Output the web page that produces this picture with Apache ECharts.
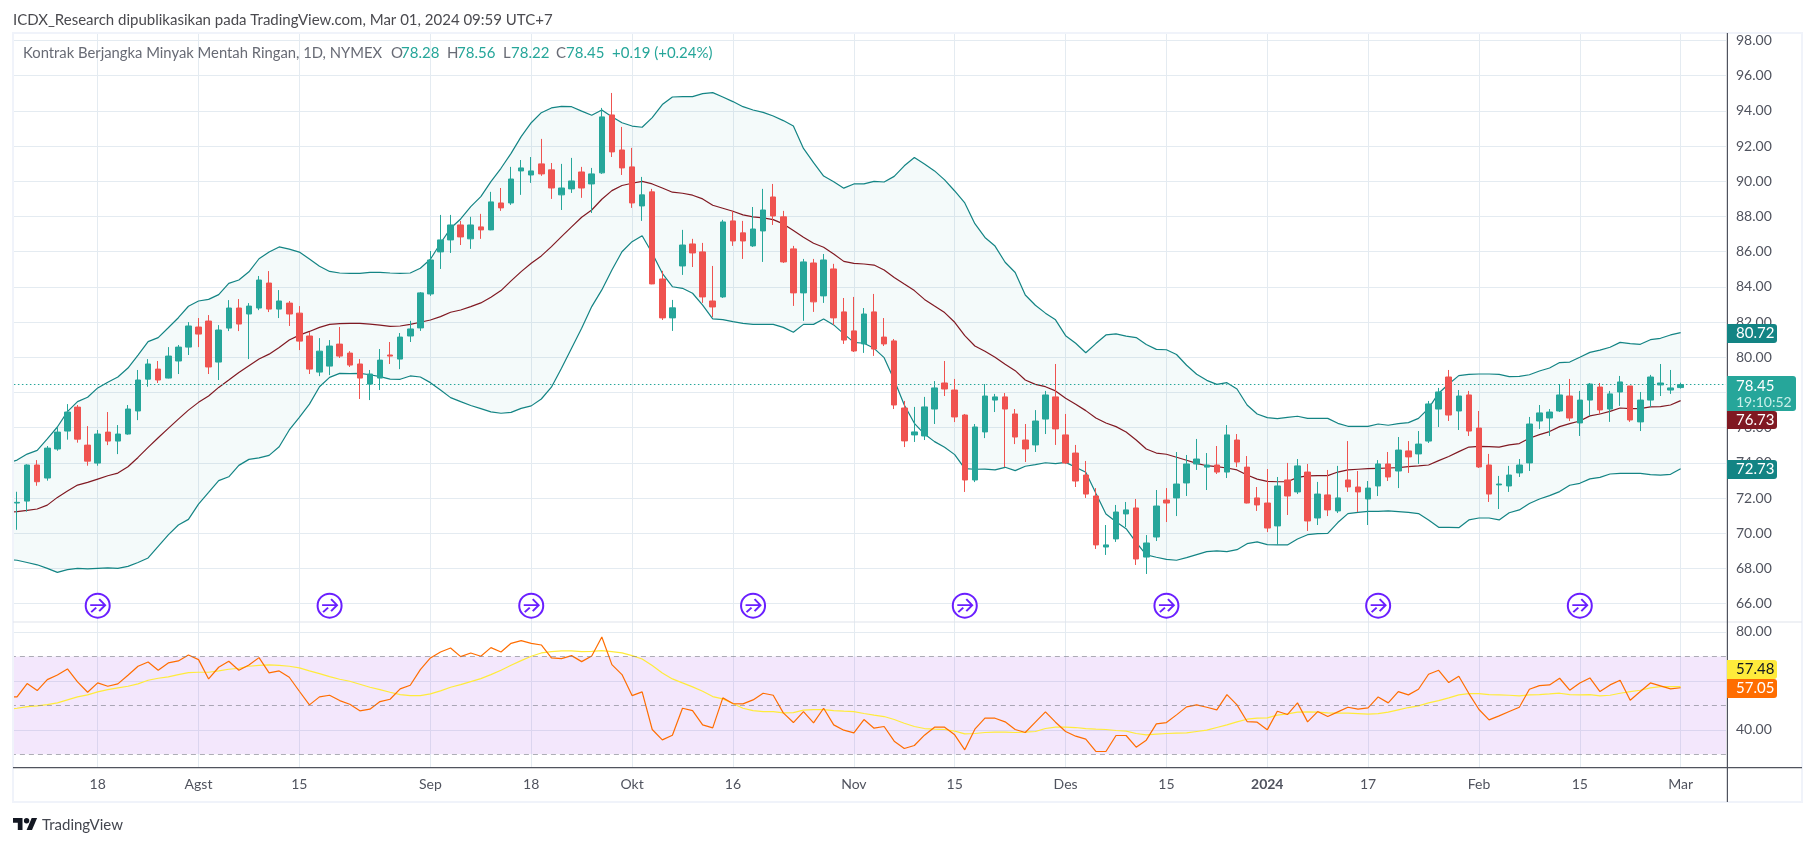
<!DOCTYPE html>
<html><head><meta charset="utf-8">
<script src="https://cdn.jsdelivr.net/npm/echarts@6/dist/echarts.min.js"></script>
<style>html,body{margin:0;padding:0;background:#fff}#c{width:1815px;height:846px}</style></head>
<body><div id="c"></div>
<script>
const dates=["2023-07-05",
"2023-07-06","2023-07-07","2023-07-10","2023-07-11","2023-07-12","2023-07-13","2023-07-14","2023-07-17","2023-07-18","2023-07-19","2023-07-20","2023-07-21","2023-07-24","2023-07-25","2023-07-26","2023-07-27","2023-07-28","2023-07-31",
"2023-08-01","2023-08-02","2023-08-03","2023-08-04","2023-08-07","2023-08-08","2023-08-09","2023-08-10","2023-08-11","2023-08-14","2023-08-15","2023-08-16","2023-08-17","2023-08-18","2023-08-21","2023-08-22","2023-08-23","2023-08-24","2023-08-25","2023-08-28","2023-08-29","2023-08-30","2023-08-31",
"2023-09-01","2023-09-05","2023-09-06","2023-09-07","2023-09-08","2023-09-11","2023-09-12","2023-09-13","2023-09-14","2023-09-15","2023-09-18","2023-09-19","2023-09-20","2023-09-21","2023-09-22","2023-09-25","2023-09-26","2023-09-27","2023-09-28","2023-09-29",
"2023-10-02","2023-10-03","2023-10-04","2023-10-05","2023-10-06","2023-10-09","2023-10-10","2023-10-11","2023-10-12","2023-10-13","2023-10-16","2023-10-17","2023-10-18","2023-10-19","2023-10-20","2023-10-23","2023-10-24","2023-10-25","2023-10-26","2023-10-27","2023-10-30","2023-10-31",
"2023-11-01","2023-11-02","2023-11-03","2023-11-06","2023-11-07","2023-11-08","2023-11-09","2023-11-10","2023-11-13","2023-11-14","2023-11-15","2023-11-16","2023-11-17","2023-11-20","2023-11-21","2023-11-22","2023-11-24","2023-11-27","2023-11-28","2023-11-29","2023-11-30",
"2023-12-01","2023-12-04","2023-12-05","2023-12-06","2023-12-07","2023-12-08","2023-12-11","2023-12-12","2023-12-13","2023-12-14","2023-12-15","2023-12-18","2023-12-19","2023-12-20","2023-12-21","2023-12-22","2023-12-26","2023-12-27","2023-12-28","2023-12-29",
"2024-01-02","2024-01-03","2024-01-04","2024-01-05","2024-01-08","2024-01-09","2024-01-10","2024-01-11","2024-01-12","2024-01-16","2024-01-17","2024-01-18","2024-01-19","2024-01-22","2024-01-23","2024-01-24","2024-01-25","2024-01-26","2024-01-29","2024-01-30","2024-01-31",
"2024-02-01","2024-02-02","2024-02-05","2024-02-06","2024-02-07","2024-02-08","2024-02-09","2024-02-12","2024-02-13","2024-02-14","2024-02-15","2024-02-16","2024-02-20","2024-02-21","2024-02-22","2024-02-23","2024-02-26","2024-02-27","2024-02-28","2024-02-29","2024-03-01"];
const opens=[null,71.72,71.83,73.88,73.14,74.79,75.81,77.17,75.01,73.99,75.75,75.24,75.64,76.95,78.76,79.33,78.82,79.79,80.58,81.72,82.06,79.73,81.66,82.80,82.46,82.80,84.22,82.74,83.08,82.51,81.21,79.16,79.50,80.75,80.24,79.62,78.48,78.82,80.13,79.90,
81.21,81.67,83.60,85.99,86.67,87.52,86.73,87.41,87.24,88.77,88.77,90.59,90.36,90.99,90.65,89.23,89.57,90.53,89.85,90.48,93.77,91.78,90.82,88.60,89.40,84.45,82.24,85.19,86.44,85.99,83.20,83.43,87.75,87.07,86.33,87.18,89.11,87.98,86.16,83.66,85.36,83.49,85.02,
82.58,81.50,80.76,82.58,81.15,80.93,77.12,75.59,75.53,77.06,78.54,78.14,76.72,73.03,75.76,77.57,77.75,76.78,75.30,75.02,76.49,77.75,75.59,74.56,73.31,72.12,69.22,69.68,71.10,71.44,68.65,69.79,71.89,72.01,72.86,73.94,73.76,73.88,73.48,75.30,73.76,72.01,71.72,
70.42,73.03,72.35,73.48,70.87,72.18,71.27,73.03,72.63,71.95,72.69,73.94,73.54,74.68,74.51,75.24,77.06,78.88,76.95,77.86,75.98,73.88,72.75,72.69,73.43,74.00,76.38,76.55,76.95,77.80,76.27,77.57,78.31,77.06,78.03,78.37,76.33,77.57,78.43,78.14,78.28];
const highs=[null,72.36,73.92,74.16,74.96,76.06,77.34,77.29,76.09,75.87,76.89,76.15,77.29,79.28,79.90,79.79,80.58,80.70,82.00,82.23,82.40,81.83,83.25,83.31,83.08,84.62,84.90,83.82,83.20,82.91,81.43,81.09,80.98,81.72,80.35,79.90,79.28,80.47,80.87,81.38,
82.07,83.71,86.04,88.09,88.09,87.75,87.98,88.15,89.40,89.62,90.82,91.21,91.38,92.41,91.04,90.99,91.33,90.82,90.76,94.17,95.02,93.09,91.90,90.25,89.57,84.91,83.26,87.24,86.73,86.50,85.19,87.81,88.32,87.75,88.54,89.57,89.85,88.32,86.33,85.59,85.59,85.87,85.31,
83.37,83.43,82.80,83.60,82.23,81.04,77.52,77.18,77.75,78.65,79.79,78.77,76.78,76.21,78.48,77.92,77.97,77.06,76.21,77.00,78.09,79.62,76.78,75.02,74.11,72.57,70.47,71.61,71.78,71.95,69.90,72.46,72.57,74.62,74.45,75.36,74.56,74.96,76.15,75.64,74.39,72.63,73.65,
73.20,74.00,74.22,73.94,72.92,73.60,73.83,75.24,73.54,72.97,74.16,74.62,75.47,75.24,75.81,77.52,78.26,79.28,78.14,78.09,76.95,74.51,73.26,73.83,74.22,76.61,77.29,77.06,78.48,78.77,78.09,78.54,78.54,78.09,78.94,78.37,78.03,79.00,79.62,79.28,78.56];
const lows=[null,70.20,71.23,72.70,72.99,74.69,75.32,75.15,73.84,73.84,75.01,74.50,75.60,76.43,78.33,78.54,78.80,79.05,80.13,80.58,79.05,78.71,81.49,81.49,79.90,82.68,82.57,82.23,81.78,80.41,79.05,78.93,78.99,79.96,79.45,77.63,77.57,78.14,79.62,79.33,
80.87,81.50,83.49,85.02,85.93,86.38,86.16,86.73,87.22,88.32,88.66,89.23,89.91,90.31,89.00,88.37,89.34,89.06,88.20,90.42,91.38,90.36,88.49,87.75,84.15,82.12,81.50,84.68,85.13,83.09,82.29,83.37,86.33,85.59,86.27,85.42,87.52,85.36,82.92,82.07,82.58,83.09,81.84,
80.76,80.30,80.25,80.08,80.64,77.06,74.90,75.19,75.30,76.21,77.80,76.32,72.35,72.91,75.41,76.89,73.76,75.07,74.05,74.62,75.64,75.02,73.94,72.63,72.01,69.11,68.77,69.51,70.36,68.20,67.69,69.56,70.64,70.98,72.12,73.60,72.46,73.37,73.14,73.76,71.70,71.27,70.07,
69.34,71.04,72.23,70.13,70.47,70.98,71.15,72.35,71.21,70.47,72.12,72.97,72.57,73.43,73.94,75.13,76.04,76.38,75.87,75.53,73.71,71.78,71.38,72.35,73.20,73.54,75.93,75.53,76.89,76.38,75.53,76.67,76.78,76.33,77.24,76.33,75.81,77.18,77.80,77.92,78.22];
const closes=[null,71.76,73.88,72.93,74.84,75.75,76.89,75.35,74.10,75.64,75.24,75.64,77.06,78.71,79.62,78.71,80.07,80.58,81.78,81.32,79.45,81.55,82.80,81.89,82.91,84.39,82.74,83.20,82.46,80.92,79.33,80.35,80.64,80.07,79.56,78.82,79.05,79.84,80.07,81.15,
81.61,83.66,85.53,86.67,87.52,86.84,87.52,87.24,88.83,88.49,90.13,90.76,90.59,90.42,89.62,89.62,90.02,89.62,90.42,93.66,91.67,90.76,88.77,89.23,84.17,82.24,82.81,86.38,85.93,83.43,82.86,87.69,86.61,86.61,87.29,88.37,88.03,85.42,83.66,85.42,83.15,85.53,82.24,
80.98,80.36,82.46,80.47,80.76,77.29,75.25,75.76,77.18,78.26,78.20,76.61,73.03,76.04,77.80,77.75,77.06,75.47,74.79,76.38,77.86,75.93,74.00,72.97,72.23,69.34,69.34,71.21,71.33,68.54,69.45,71.55,71.72,72.80,73.94,74.22,73.88,73.48,75.59,74.05,71.72,71.61,70.30,
72.69,72.12,73.83,70.70,72.23,71.33,72.01,72.63,72.35,72.57,73.94,73.20,74.73,74.34,75.07,77.35,78.03,76.72,77.80,75.81,73.77,72.23,72.80,73.31,73.88,76.21,76.84,76.89,77.86,76.55,77.57,78.48,77.01,77.92,78.60,76.44,77.57,78.88,78.54,78.26,78.45];
const bbUpper=[73.98,74.16,74.50,74.71,75.36,76.04,76.91,77.48,77.73,78.26,78.58,78.88,79.39,80.13,80.89,81.12,81.68,82.25,82.90,83.20,83.29,83.56,84.20,84.39,84.86,85.60,85.98,86.27,86.15,85.98,85.58,85.17,84.88,84.79,84.77,84.77,84.83,84.83,84.79,84.77,
84.79,85.06,85.57,86.48,87.33,87.86,88.56,89.13,89.98,90.74,91.59,92.54,93.33,93.90,94.17,94.26,94.24,93.99,93.75,94.05,93.67,93.33,93.14,93.07,93.62,94.36,94.79,94.81,94.81,94.98,95.04,94.79,94.53,94.24,94.05,93.92,93.71,93.45,93.14,91.87,91.06,90.30,89.98,
89.61,89.85,89.85,90.00,89.96,90.28,90.88,91.35,90.98,90.59,90.08,89.45,88.77,87.59,86.81,86.32,85.40,84.82,83.54,82.96,82.51,82.13,81.23,80.80,80.26,80.78,81.27,81.33,81.20,81.12,80.73,80.45,80.43,80.16,79.55,79.04,78.69,78.46,78.56,78.20,77.29,76.78,76.57,
76.52,76.59,76.65,76.53,76.53,76.53,76.25,76.08,76.08,76.08,76.21,76.14,76.23,76.29,76.53,77.10,77.96,78.48,78.96,79.03,79.05,79.05,79.03,78.90,78.92,79.01,79.22,79.39,79.70,79.73,80.00,80.28,80.41,80.57,80.85,80.78,80.74,81.00,81.08,81.27,81.40];
const bbBasis=[71.20,71.23,71.30,71.38,71.60,72.04,72.40,72.74,72.89,73.08,73.27,73.42,73.78,74.31,74.88,75.43,75.96,76.49,77.00,77.44,77.80,78.29,78.71,79.14,79.52,79.90,80.18,80.56,80.98,81.26,81.47,81.70,81.87,81.91,81.93,81.93,81.89,81.83,81.76,81.78,
81.87,81.99,82.12,82.31,82.56,82.69,82.88,83.09,83.41,83.79,84.34,84.87,85.34,85.76,86.29,86.86,87.41,87.96,88.37,88.98,89.47,89.76,89.89,90.00,89.85,89.62,89.38,89.32,89.21,89.00,88.64,88.47,88.30,88.09,87.98,87.92,87.82,87.58,87.20,86.82,86.48,86.25,85.87,
85.45,85.34,85.30,85.24,84.96,84.54,84.16,83.79,83.29,82.91,82.54,81.99,81.23,80.64,80.34,80.00,79.60,79.24,78.71,78.46,78.33,78.09,77.67,77.33,76.97,76.55,76.27,76.06,75.76,75.30,74.79,74.56,74.49,74.32,74.15,73.97,73.84,73.79,73.71,73.60,73.31,73.08,72.95,
72.93,72.93,73.18,73.26,73.28,73.28,73.48,73.60,73.64,73.67,73.69,73.71,73.73,73.79,73.83,73.88,74.13,74.36,74.64,74.90,74.94,74.92,74.90,75.02,75.10,75.40,75.61,75.78,76.06,76.23,76.38,76.67,76.78,76.93,77.12,77.08,77.08,77.18,77.20,77.29,77.54];
const bbLower=[68.52,68.47,68.34,68.21,68.01,67.78,67.94,68.01,67.98,68.01,68.04,68.01,68.12,68.34,68.60,69.26,69.91,70.47,70.79,71.66,72.32,72.99,73.21,73.86,74.20,74.29,74.43,74.92,75.87,76.59,77.34,78.33,78.86,79.09,79.07,79.09,79.01,78.90,78.76,78.75,
78.94,78.88,78.56,78.14,77.71,77.48,77.26,77.08,76.90,76.82,76.87,77.10,77.24,77.63,78.30,79.38,80.51,81.65,82.88,83.83,84.96,86.00,86.57,86.91,85.91,84.77,84.01,83.92,83.64,82.97,82.18,82.14,82.03,81.93,81.87,81.87,81.87,81.70,81.42,81.87,81.87,82.18,81.84,
81.33,80.85,80.80,80.51,79.98,78.71,77.29,76.25,75.64,75.21,74.89,74.47,73.67,73.64,73.65,73.60,73.75,73.56,73.81,73.90,74.01,73.96,74.03,73.75,73.47,72.27,71.10,70.66,70.26,69.49,68.77,68.64,68.52,68.47,68.62,68.79,68.96,69.00,68.96,69.07,69.41,69.51,69.36,
69.34,69.34,69.68,69.92,69.98,70.00,70.61,71.12,71.19,71.25,71.25,71.27,71.23,71.19,71.12,70.76,70.34,70.34,70.32,70.76,70.87,70.87,70.76,71.17,71.33,71.69,71.95,72.14,72.37,72.73,72.84,73.09,73.18,73.37,73.41,73.41,73.41,73.33,73.31,73.35,73.67];
const rsi=[53.47,53.47,58.91,56.05,60.54,62.45,64.90,59.59,55.37,59.18,57.82,58.78,62.31,65.99,67.76,64.35,67.35,68.16,70.61,68.71,60.82,65.58,68.03,64.35,66.53,69.52,63.27,64.08,61.50,55.78,50.20,53.47,54.15,51.97,50.48,47.76,48.44,51.56,52.52,56.73,58.23,64.63,69.39,71.84,73.47,69.93,71.43,70.07,73.61,71.84,75.37,76.46,75.37,74.69,69.39,69.12,70.34,67.89,70.20,77.96,66.67,
62.59,54.01,55.51,40.14,35.92,37.82,48.84,47.89,42.04,40.82,53.06,50.75,50.61,52.24,54.97,54.15,46.94,42.99,47.48,42.86,48.84,42.04,39.86,38.78,44.22,40.68,41.36,35.37,32.38,33.61,37.82,41.09,41.09,37.96,31.84,40.27,44.76,44.76,43.27,40.14,38.91,43.13,47.35,43.13,39.32,37.41,36.19,31.16,31.16,37.69,37.69,32.93,35.78,42.45,42.99,46.12,49.39,50.20,49.25,48.16,
54.42,50.20,43.40,43.13,40.00,47.62,46.26,51.02,43.27,47.48,45.44,47.35,49.25,48.44,48.98,53.47,51.02,55.65,54.29,56.60,62.72,64.35,59.32,61.90,54.83,48.30,44.08,45.71,47.48,49.25,56.60,58.10,58.37,61.09,56.19,59.18,61.22,55.65,58.37,60.27,52.11,55.65,59.18,57.96,56.73,57.20];
const rsiMa=[48.30,48.84,49.52,49.80,50.34,51.02,52.24,53.47,54.29,55.51,56.46,57.14,57.82,58.78,60.27,61.09,61.63,62.59,63.40,63.54,63.54,64.08,64.76,65.17,65.99,66.39,66.53,66.39,65.99,65.31,64.08,62.99,61.77,60.68,59.86,58.64,57.41,56.46,55.37,54.42,54.01,54.01,54.69,55.92,57.41,58.50,59.73,60.95,62.59,64.35,66.39,68.30,70.07,71.43,71.97,72.24,72.24,71.97,72.11,72.38,71.97,
71.43,70.34,68.98,66.26,63.27,60.82,59.18,57.55,55.78,53.61,52.65,50.75,48.84,47.89,47.48,47.48,46.94,47.07,48.03,48.30,48.30,47.89,47.62,47.48,46.67,45.99,45.44,44.22,42.72,41.36,40.54,40.27,40.14,39.46,38.37,38.50,38.91,39.05,39.05,38.91,39.05,39.32,40.54,41.09,41.09,40.95,40.54,40.27,40.14,39.73,39.46,38.50,37.96,38.23,38.50,38.64,38.78,39.32,39.86,40.95,
42.04,43.27,44.35,44.76,44.90,45.99,46.53,47.21,47.35,47.21,46.94,46.80,46.80,46.67,46.39,46.67,47.21,48.16,49.12,49.80,51.02,51.97,53.06,54.29,54.83,54.83,54.42,54.29,54.15,53.88,54.29,54.42,54.69,54.97,54.42,54.29,54.42,53.88,54.15,54.97,55.65,56.19,57.14,57.69,57.69,57.69];
const priceTicks=[66,68,70,72,74,76,78,80,82,84,86,88,90,92,94,96,98];
const rsiTicks=[40,60,80];
const rsiBands=[30,50,70];
const lastClose=78.45;
const rolloverDates=["2023-07-18","2023-08-18","2023-09-18","2023-10-18","2023-11-16","2023-12-15","2024-01-18","2024-02-15"];
const rolloverLevel=65.89;
const timeTicks={"2023-07-18":"18","2023-08-01":"Agst","2023-08-15":"15","2023-09-01":"Sep","2023-09-18":"18","2023-10-02":"Okt","2023-10-16":"16","2023-11-01":"Nov","2023-11-15":"15","2023-12-01":"Des","2023-12-15":"15","2024-01-02":"{b|2024}","2024-01-17":"17","2024-02-01":"Feb","2024-02-15":"15","2024-03-01":"Mar"};
const axisCategories=dates.concat(["+1","+2","+3","+4"]);

const FONT='Lato';
const GRID='#e4ebf1', TEAL='#138484', UP='#26a69a', DOWN='#ef5350', PURPLE='#6a1fff', TXT='#50535e';
const candle=dates.map((d,i)=>opens[i]==null?'-':[opens[i],closes[i],lows[i],highs[i]]);
const bandSpan=bbUpper.map((u,i)=>+(u-bbLower[i]).toFixed(2));
const isTick=i=>timeTicks[axisCategories[i]]!==undefined;

const chart=echarts.init(document.getElementById('c'),null,{renderer:'canvas'});
function xAxis(gridIndex,showLabel){return {type:'category',gridIndex,data:axisCategories,boundaryGap:true,
  axisLine:{show:false},axisTick:{show:false},
  splitLine:{show:true,alignWithLabel:true,interval:(i)=>isTick(i),lineStyle:{color:GRID,width:1}},
  axisLabel:{show:showLabel,interval:(i)=>isTick(i),formatter:v=>timeTicks[v]||'',color:TXT,fontFamily:FONT,fontSize:14,margin:10,
    rich:{b:{fontWeight:'bold',color:TXT,fontFamily:FONT,fontSize:14}}}};}
function yAxis(gridIndex,min,max,ticks){return {type:'value',gridIndex,position:'right',min,max,scale:true,
  axisLine:{show:false},axisTick:{show:false,customValues:ticks},
  splitLine:{show:true,lineStyle:{color:GRID,width:1}},
  axisLabel:{customValues:ticks,formatter:v=>v.toFixed(2),color:TXT,fontFamily:FONT,fontSize:14,margin:10,padding:[2,0,0,0]}};}
const base={type:'line',symbol:'none',smooth:false,silent:true,animation:false};
function tag(x,y,w,h,fill,text,color){return [
  {type:'rect',z:50,shape:{x,y,width:w,height:h,r:[0,3,3,0]},style:{fill}},
  {type:'text',z:51,x:x+9,y:y+h/2,style:{text,fill:color,font:`15px ${FONT}`,textVerticalAlign:'middle'}}];}
function txt(x,y,text,fill,size,weight){return {type:'text',z:52,x,y,style:{text,fill,font:`${weight||'normal'} ${size||14}px ${FONT}`,textVerticalAlign:'middle'}};}
function hline(x1,x2,y,stroke,w){return {type:'line',z:45,shape:{x1,y1:y,x2,y2:y},style:{stroke,lineWidth:w||1}};}
function vline(x,y1,y2,stroke,w){return {type:'line',z:45,shape:{x1:x,y1,x2:x,y2},style:{stroke,lineWidth:w||1}};}

chart.setOption({
 animation:false,backgroundColor:'#fff',
 grid:[{left:1.92,right:89,top:34,height:588},{left:1.92,right:89,top:622,height:145.7}],
 xAxis:[xAxis(0,false),xAxis(1,true)],
 yAxis:[yAxis(0,64.96,98.37,priceTicks),yAxis(1,24.53,84.08,rsiTicks)],
 series:[
  {...base,name:'bbFloor',xAxisIndex:0,yAxisIndex:0,data:bbLower,stack:'bb',lineStyle:{width:0},z:1},
  {...base,name:'bbFill',xAxisIndex:0,yAxisIndex:0,data:bandSpan,stack:'bb',lineStyle:{width:0},areaStyle:{color:'rgba(0,128,128,0.045)',opacity:1},z:1},
  {...base,name:'Upper',xAxisIndex:0,yAxisIndex:0,data:bbUpper,lineStyle:{color:TEAL,width:1.2},z:3},
  {...base,name:'Basis',xAxisIndex:0,yAxisIndex:0,data:bbBasis,lineStyle:{color:'#801922',width:1.2},z:3},
  {...base,name:'Lower',xAxisIndex:0,yAxisIndex:0,data:bbLower,lineStyle:{color:TEAL,width:1.2},z:3,
    markLine:{silent:true,symbol:'none',label:{show:false},animation:false,lineStyle:{color:UP,type:[1.5,2.5],width:1},data:[{yAxis:lastClose}]}},
  {type:'candlestick',name:'Price',xAxisIndex:0,yAxisIndex:0,data:candle,barWidth:6,silent:true,animation:false,z:5,
    itemStyle:{color:UP,color0:DOWN,borderColor:UP,borderColor0:DOWN,borderColorDoji:UP,borderWidth:1}},
  {type:'scatter',name:'ring',xAxisIndex:0,yAxisIndex:0,data:rolloverDates.map(d=>[d,rolloverLevel]),symbol:'circle',symbolSize:24,silent:true,animation:false,z:8,
    itemStyle:{color:'#fff',borderColor:PURPLE,borderWidth:2,opacity:1}},
  {type:'scatter',name:'arrow',xAxisIndex:0,yAxisIndex:0,data:rolloverDates.map(d=>[d,rolloverLevel]),
    symbol:'path://M0 7H15M9 1L15 7L9 13M1 14L6 9.5',symbolSize:[15,13],silent:true,animation:false,z:9,
    itemStyle:{color:'rgba(0,0,0,0)',borderColor:PURPLE,borderWidth:1.8,opacity:1}},
  {...base,name:'RSI band',xAxisIndex:1,yAxisIndex:1,data:[],z:1,
    markArea:{silent:true,animation:false,itemStyle:{color:'rgba(149,40,230,0.11)'},data:[[{yAxis:rsiBands[0]},{yAxis:rsiBands[2]}]]},
    markLine:{silent:true,symbol:'none',label:{show:false},animation:false,lineStyle:{color:'rgba(120,123,134,0.6)',type:[5,4],width:1},data:rsiBands.map(v=>({yAxis:v}))}},
  {...base,name:'RSI MA',xAxisIndex:1,yAxisIndex:1,data:rsiMa,lineStyle:{color:'#ffeb3b',width:1.2},z:3},
  {...base,name:'RSI',xAxisIndex:1,yAxisIndex:1,data:rsi,lineStyle:{color:'#ff6d00',width:1.2},z:4}
 ],
 graphic:{elements:[
  {type:'rect',z:43,shape:{x:0,y:30,width:13,height:775},style:{fill:'#fff'}},
  {type:'rect',z:44,shape:{x:13,y:33,width:1789,height:769},style:{fill:'none',stroke:'#f0f3fa',lineWidth:2}},
  hline(13,1802,622,'#e0e3eb',1.2),
  hline(13,1802,767.7,TXT,1.2),
  vline(1727.4,33,802,TXT,1.2),
  txt(13,20,'ICDX_Research dipublikasikan pada TradingView.com, Mar 01, 2024 09:59 UTC+7','#4a4a4f',15),
  txt(23,53,'Kontrak Berjangka Minyak Mentah Ringan, 1D, NYMEX','#686b75',14.8),
  txt(391,53,'O','#686b75',15),txt(401,53,'78.28',UP,15),
  txt(447,53,'H','#686b75',15),txt(457,53,'78.56',UP,15),
  txt(503,53,'L','#686b75',15),txt(511,53,'78.22',UP,15),
  txt(556,53,'C','#686b75',15),txt(566,53,'78.45',UP,15),
  txt(612,53,'+0.19 (+0.24%)',UP,15),
  ...tag(1727,324,50,19,TEAL,'80.72','#fff'),
  {type:'rect',z:50,shape:{x:1727,y:376,width:69,height:35,r:[0,3,3,0]},style:{fill:UP}},
  {type:'text',z:51,x:1736,y:386,style:{text:'78.45',fill:'#fff',font:`15px ${FONT}`,textVerticalAlign:'middle'}},
  {type:'text',z:51,x:1736,y:402,style:{text:'19:10:52',fill:'#c9efe9',font:`14px ${FONT}`,textVerticalAlign:'middle'}},
  ...tag(1727,411,50,18,'#801922','76.73','#fff'),
  ...tag(1727,460,50,19,TEAL,'72.73','#fff'),
  ...tag(1727,660,50,19,'#ffeb3b','57.48','#131722'),
  ...tag(1727,679,50,19,'#ff6d00','57.05','#fff'),
  {type:'polygon',z:52,shape:{points:[[13,818],[22.5,818],[22.5,830],[17.8,830],[17.8,822.7],[13,822.7]]},style:{fill:'#131722'}},
  {type:'polygon',z:52,shape:{points:[[26.6,830],[31.7,818],[37.1,818],[32,830]]},style:{fill:'#131722'}},
  {type:'circle',z:52,shape:{cx:26.6,cy:820.7,r:2.7},style:{fill:'#131722'}},
  txt(42,825,'TradingView','#43464f',15)
 ]}
});
</script></body></html>
